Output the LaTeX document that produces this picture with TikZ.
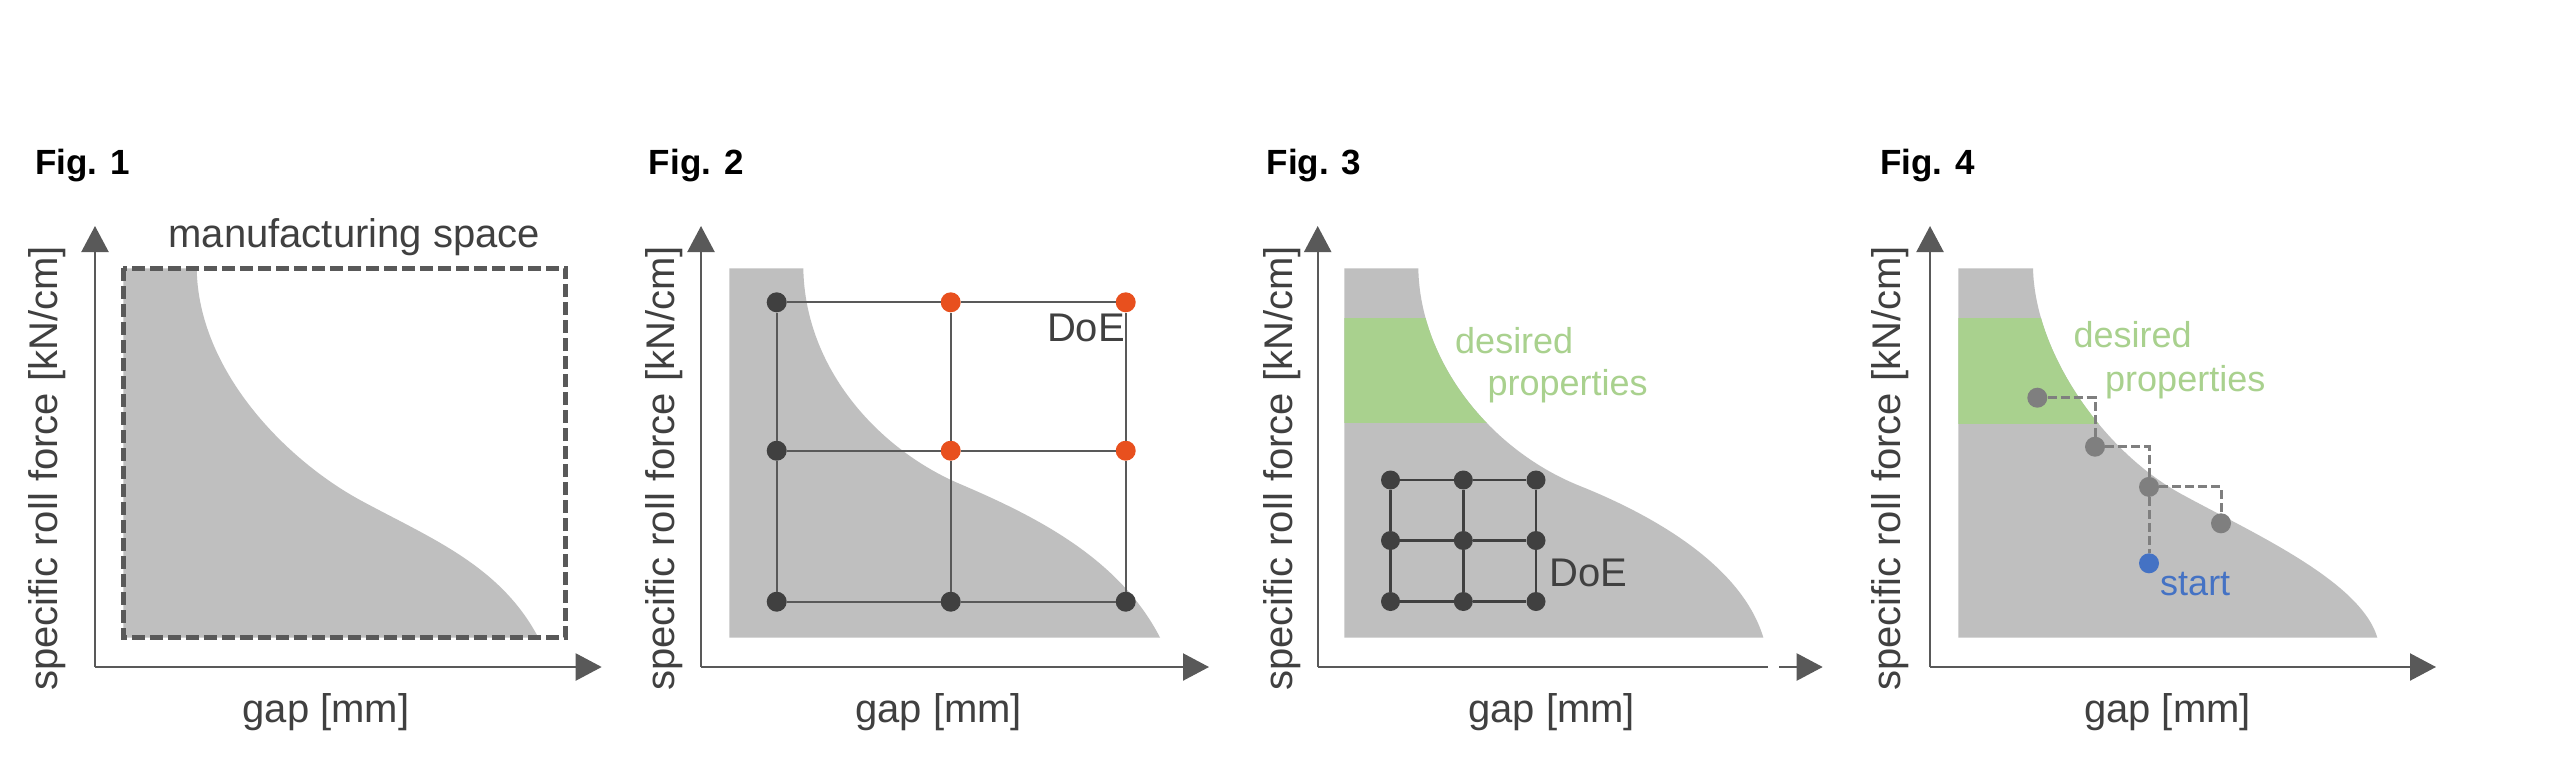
\documentclass[tikz,border=0pt]{standalone}
\usepackage{fontspec}
\setmainfont{Liberation Sans}
\usetikzlibrary{arrows.meta}
\definecolor{axisgray}{HTML}{595959}
\definecolor{fillgray}{HTML}{BFBFBF}
\definecolor{txtgray}{HTML}{404040}
\definecolor{dotdark}{HTML}{404040}
\definecolor{doeorange}{HTML}{E8501E}
\definecolor{desgreen}{HTML}{A9D18E}
\definecolor{startblue}{HTML}{4472C4}
\definecolor{stepgray}{HTML}{7F7F7F}
\def\regA{(123.3,637.5) -- (123.3,268.3) -- (196.7,268.3) .. controls (198,370) and (285,459) .. (360,500) .. controls (430,538) and (500,565) .. (538.3,637.5) -- cycle}
\def\regB{(729.3,637.5) -- (729.3,268.3) -- (803.3,268.3) .. controls (805,370) and (880,450) .. (960,484) .. controls (1040,518) and (1120,560) .. (1160,637.5) -- cycle}
\def\regC{(1344.3,637.5) -- (1344.3,268.3) -- (1418.3,268.3) .. controls (1420,362) and (1490,450) .. (1580,486) .. controls (1640,510) and (1740,560) .. (1763.3,637.5) -- cycle}
\def\regD{(1958.3,637.5) -- (1958.3,268.3) -- (2033,268.3) .. controls (2035,355) and (2105,452) .. (2180,493.3) .. controls (2250,531.8) and (2360,580) .. (2377.3,637.5) -- cycle}
\begin{document}
\begin{tikzpicture}[x=1pt,y=-1pt,
  axis/.style={draw=axisgray,line width=2.2pt,-{Triangle[length=26pt,width=27pt]}},
  axisplain/.style={draw=axisgray,line width=2.2pt},
  figlbl/.style={font=\fontsize{35}{42}\selectfont\bfseries,text=black,inner sep=0,anchor=base west},
  lbl/.style={font=\fontsize{40}{48}\selectfont,text=txtgray,inner sep=0},
  ylbl/.style={lbl,rotate=90,anchor=west},
  grnlbl/.style={font=\fontsize{36}{43}\selectfont,text=desgreen,inner sep=0,anchor=base west},
  ddot/.style={circle,fill=dotdark,inner sep=0,minimum size=20pt},
  odot/.style={circle,fill=doeorange,inner sep=0,minimum size=20pt},
  sdot/.style={circle,fill=stepgray,inner sep=0,minimum size=20pt},
  bdot/.style={circle,fill=startblue,inner sep=0,minimum size=20pt},
  gridline/.style={draw=axisgray,line width=2pt},
  smallgrid/.style={draw=dotdark,line width=2.5pt},
  stepline/.style={draw=stepgray,line width=3pt,dash pattern=on 9pt off 4pt},
  dashrect/.style={draw=axisgray,line width=5pt,dash pattern=on 13pt off 5pt}]
\useasboundingbox (0,0) rectangle (2561,758);
\fill[white] (0,0) rectangle (2561,758);

% ---------- Fig. 1 ----------
\node[figlbl] (t1) at (35,174) {Fig. 1};
\fill[fillgray] \regA;
\draw[dashrect] (123.3,268.3) rectangle (565.7,637.5);
\node[lbl,anchor=base west] (ms) at (168.3,247) {manufacturing space};
\coordinate (o1) at (95,667);
\coordinate (ya1) at (95,226);
\coordinate (xa1) at (601.7,667);
\draw[axis] (o1) -- (ya1);
\draw[axis] (o1) -- (xa1);
\node[ylbl] (yl1) at (47,691) {specific roll force [kN/cm]};
\node[lbl,anchor=base] (xl1) at (326,722) {gap [mm]};

% ---------- Fig. 2 ----------
\node[figlbl] (t2) at (648.7,174) {Fig. 2};
\fill[fillgray] \regB;
\coordinate (o2) at (701,667);
\coordinate (ya2) at (701,226);
\coordinate (xa2) at (1209,667);
\draw[axis] (o2) -- (ya2);
\draw[axis] (o2) -- (xa2);
\node[ylbl] (yl2) at (664,691) {specific roll force [kN/cm]};
\node[lbl,anchor=base] (xl2) at (938.6,722) {gap [mm]};
\node[ddot] (b11) at (776.7,302.3) {};
\node[odot] (b12) at (950.7,302.3) {};
\node[odot] (b13) at (1125.7,302.3) {};
\node[ddot] (b21) at (776.7,450.7) {};
\node[odot] (b22) at (950.7,450.7) {};
\node[odot] (b23) at (1125.7,450.7) {};
\node[ddot] (b31) at (776.7,601.7) {};
\node[ddot] (b32) at (950.7,601.7) {};
\node[ddot] (b33) at (1125.7,601.7) {};
\draw[gridline] (b11) -- (b12) -- (b13);
\draw[gridline] (b21) -- (b22) -- (b23);
\draw[gridline] (b31) -- (b32) -- (b33);
\draw[gridline] (b11) -- (b21) -- (b31);
\draw[gridline] (b12) -- (b22) -- (b32);
\draw[gridline] (b13) -- (b23) -- (b33);
\node[lbl,anchor=base east] (doe2) at (1125,341.7) {DoE};

% ---------- Fig. 3 ----------
\node[figlbl] (t3) at (1266.6,174) {Fig. 3};
\fill[fillgray] \regC;
\begin{scope}
\clip \regC;
\fill[desgreen] (1340,317.7) rectangle (1800,422.7);
\end{scope}
\coordinate (o3) at (1317.7,667);
\coordinate (ya3) at (1317.7,226);
\coordinate (xe3) at (1767.7,667);
\coordinate (xs3) at (1779.3,667);
\coordinate (xa3) at (1822.7,667);
\draw[axis] (o3) -- (ya3);
\draw[axisplain] (o3) -- (xe3);
\draw[axis] (xs3) -- (xa3);
\node[ylbl] (yl3) at (1282,691) {specific roll force [kN/cm]};
\node[lbl,anchor=base] (xl3) at (1551.6,722) {gap [mm]};
\node[grnlbl] (des3) at (1455,353.3) {desired};
\node[grnlbl] (pro3) at (1487.3,395) {properties};
\node[ddot,minimum size=19pt] (c11) at (1390.5,480) {};
\node[ddot,minimum size=19pt] (c12) at (1463.3,480) {};
\node[ddot,minimum size=19pt] (c13) at (1536,480) {};
\node[ddot,minimum size=19pt] (c21) at (1390.5,540.5) {};
\node[ddot,minimum size=19pt] (c22) at (1463.3,540.5) {};
\node[ddot,minimum size=19pt] (c23) at (1536,540.5) {};
\node[ddot,minimum size=19pt] (c31) at (1390.5,601.5) {};
\node[ddot,minimum size=19pt] (c32) at (1463.3,601.5) {};
\node[ddot,minimum size=19pt] (c33) at (1536,601.5) {};
\draw[smallgrid] (c11) -- (c12) -- (c13);
\draw[smallgrid] (c21) -- (c22) -- (c23);
\draw[smallgrid] (c31) -- (c32) -- (c33);
\draw[smallgrid] (c11) -- (c21) -- (c31);
\draw[smallgrid] (c12) -- (c22) -- (c32);
\draw[smallgrid] (c13) -- (c23) -- (c33);
\node[lbl,anchor=base west] (doe3) at (1549.3,586) {DoE};

% ---------- Fig. 4 ----------
\node[figlbl] (t4) at (1880,174) {Fig. 4};
\fill[fillgray] \regD;
\begin{scope}
\clip \regD;
\fill[desgreen] (1950,318.3) rectangle (2400,424);
\end{scope}
\coordinate (o4) at (1930,667);
\coordinate (ya4) at (1930,226);
\coordinate (xa4) at (2436,667);
\draw[axis] (o4) -- (ya4);
\draw[axis] (o4) -- (xa4);
\node[ylbl] (yl4) at (1890,691) {specific roll force [kN/cm]};
\node[lbl,anchor=base] (xl4) at (2167.5,722) {gap [mm]};
\node[grnlbl] (des4) at (2073.3,347) {desired};
\node[grnlbl] (pro4) at (2105,391) {properties};
\node[sdot] (s1) at (2037.3,397.7) {};
\node[sdot] (s2) at (2095,446.7) {};
\node[sdot] (s3) at (2149,486.9) {};
\node[sdot] (s4) at (2221,523.3) {};
\node[bdot] (st) at (2149,563.3) {};
\draw[stepline] (s1) -| (s2);
\draw[stepline] (s2) -| (s3);
\draw[stepline] (s3) -| (s4);
\draw[stepline] (s3) -- (st);
\node[font=\fontsize{36}{43}\selectfont,text=startblue,inner sep=0,anchor=base west] (stl) at (2160,595) {start};
\end{tikzpicture}
\end{document}
